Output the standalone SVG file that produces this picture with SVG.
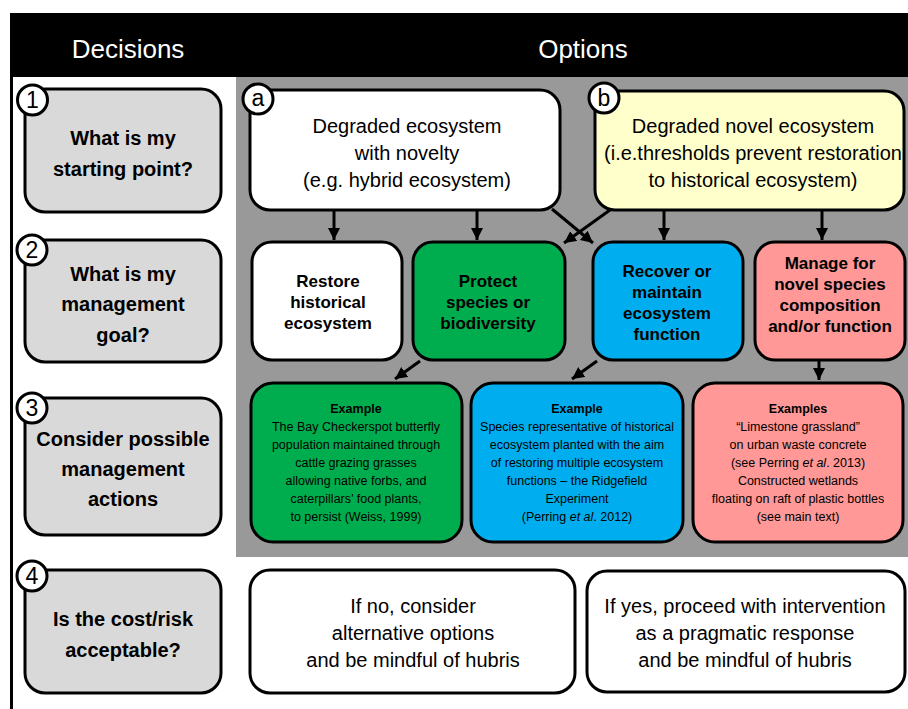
<svg xmlns="http://www.w3.org/2000/svg" width="908" height="709" viewBox="0 0 908 709">
<defs>
<marker id="ah" markerUnits="userSpaceOnUse" markerWidth="13" markerHeight="13" refX="12" refY="6" orient="auto">
<path d="M0,0 L12,6 L0,12 z" fill="#000"/>
</marker>
<style>
text{font-family:"Liberation Sans",Arial,sans-serif;fill:#000;text-anchor:middle}
.box{stroke:#000;stroke-width:3}
.q{fill:#d9d9d9}
.qt{font-size:20px;font-weight:bold}
.big{font-size:20px}
.goal{font-size:17px;font-weight:bold}
.ex{font-size:12.5px}
.exb{font-size:12.5px;font-weight:bold}
.hd{font-size:26px;fill:#fff}
.circ{fill:#fff;stroke:#000;stroke-width:3}
.num{font-size:23px}
.conn line{stroke:#000;stroke-width:3;marker-end:url(#ah)}
</style>
</defs>
<rect x="0" y="0" width="908" height="709" fill="#fff"/>
<g id="header">
<rect x="10" y="13" width="898" height="64" fill="#000"/>
<text class="hd" x="128" y="58">Decisions</text>
<text class="hd" x="583" y="58">Options</text>
</g>
<line x1="11.5" y1="77" x2="11.5" y2="709" stroke="#000" stroke-width="3"/>
<rect id="options-bg" x="236" y="77" width="672" height="480" fill="#999"/>

<g id="q1">
<rect class="box q" x="25" y="89" width="196" height="123" rx="20"/>
<text class="qt" x="123" y="145">What is my</text>
<text class="qt" x="123" y="176">starting point?</text>
<circle class="circ" cx="32.5" cy="100" r="15"/>
<text class="num" x="32.5" y="108">1</text>
</g>
<g id="q2">
<rect class="box q" x="25" y="240" width="196" height="122" rx="20"/>
<text class="qt" x="123" y="281">What is my</text>
<text class="qt" x="123" y="311">management</text>
<text class="qt" x="123" y="342">goal?</text>
<circle class="circ" cx="32" cy="250" r="15"/>
<text class="num" x="32" y="258">2</text>
</g>
<g id="q3">
<rect class="box q" x="25" y="398" width="196" height="137" rx="20"/>
<text class="qt" x="123" y="446">Consider possible</text>
<text class="qt" x="123" y="476">management</text>
<text class="qt" x="123" y="506">actions</text>
<circle class="circ" cx="32" cy="408" r="15"/>
<text class="num" x="32" y="416">3</text>
</g>
<g id="q4">
<rect class="box q" x="25" y="570" width="196" height="123" rx="20"/>
<text class="qt" x="123" y="626">Is the cost/risk</text>
<text class="qt" x="123" y="657">acceptable?</text>
<circle class="circ" cx="32" cy="576" r="15"/>
<text class="num" x="32" y="584">4</text>
</g>

<g id="start-a">
<rect class="box" x="250" y="90" width="310" height="120" rx="20" fill="#fff"/>
<text class="big" x="407" y="133">Degraded ecosystem</text>
<text class="big" x="407" y="160">with novelty</text>
<text class="big" x="407" y="187">(e.g. hybrid ecosystem)</text>
<circle class="circ" cx="258" cy="99" r="15"/>
<text class="num" x="258" y="106">a</text>
</g>
<g id="start-b">
<rect class="box" x="595" y="91" width="309" height="119" rx="20" fill="#ffffcc"/>
<text class="big" x="753" y="133">Degraded novel ecosystem</text>
<text class="big" x="753" y="160">(i.e.thresholds prevent restoration</text>
<text class="big" x="753" y="187">to historical ecosystem)</text>
<circle class="circ" cx="604" cy="98" r="15"/>
<text class="num" x="604" y="106">b</text>
</g>

<g id="goal-restore">
<rect class="box" x="252" y="242" width="150" height="118" rx="20" fill="#fff"/>
<text class="goal" x="328" y="287">Restore</text>
<text class="goal" x="328" y="308">historical</text>
<text class="goal" x="328" y="329">ecosystem</text>
</g>
<g id="goal-protect">
<rect class="box" x="413" y="242" width="152" height="118" rx="20" fill="#00ad4e"/>
<text class="goal" x="488" y="287">Protect</text>
<text class="goal" x="488" y="308">species or</text>
<text class="goal" x="488" y="329">biodiversity</text>
</g>
<g id="goal-recover">
<rect class="box" x="593" y="242" width="150" height="118" rx="20" fill="#00aeef"/>
<text class="goal" x="667" y="277">Recover or</text>
<text class="goal" x="667" y="298">maintain</text>
<text class="goal" x="667" y="319">ecosystem</text>
<text class="goal" x="667" y="340">function</text>
</g>
<g id="goal-manage">
<rect class="box" x="755" y="242" width="150" height="118" rx="20" fill="#ff9896"/>
<text class="goal" x="830" y="269">Manage for</text>
<text class="goal" x="830" y="290">novel species</text>
<text class="goal" x="830" y="311">composition</text>
<text class="goal" x="830" y="332">and/or function</text>
</g>

<g id="example-green">
<rect class="box" x="251" y="383" width="211" height="159" rx="22" fill="#00ad4e"/>
<text class="exb" x="356" y="413">Example</text>
<text class="ex" x="356" y="431">The Bay Checkerspot butterfly</text>
<text class="ex" x="356" y="449">population maintained through</text>
<text class="ex" x="356" y="467">cattle grazing grasses</text>
<text class="ex" x="356" y="485">allowing native forbs, and</text>
<text class="ex" x="356" y="503">caterpillars’ food plants,</text>
<text class="ex" x="356" y="521">to persist (Weiss, 1999)</text>
</g>
<g id="example-blue">
<rect class="box" x="471" y="383" width="212" height="159" rx="22" fill="#00aeef"/>
<text class="exb" x="577" y="413">Example</text>
<text class="ex" x="577" y="431">Species representative of historical</text>
<text class="ex" x="577" y="449">ecosystem planted with the aim</text>
<text class="ex" x="577" y="467">of restoring multiple ecosystem</text>
<text class="ex" x="577" y="485">functions – the Ridgefield</text>
<text class="ex" x="577" y="503">Experiment</text>
<text class="ex" x="577" y="521">(Perring <tspan font-style="italic">et al</tspan>. 2012)</text>
</g>
<g id="example-pink">
<rect class="box" x="693" y="383" width="210" height="159" rx="22" fill="#ff9896"/>
<text class="exb" x="798" y="413">Examples</text>
<text class="ex" x="798" y="431">“Limestone grassland”</text>
<text class="ex" x="798" y="449">on urban waste concrete</text>
<text class="ex" x="798" y="467">(see Perring <tspan font-style="italic">et al</tspan>. 2013)</text>
<text class="ex" x="798" y="485">Constructed wetlands</text>
<text class="ex" x="798" y="503">floating on raft of plastic bottles</text>
<text class="ex" x="798" y="521">(see main text)</text>
</g>

<g id="outcome-no">
<rect class="box" x="250" y="570" width="325" height="123" rx="20" fill="#fff"/>
<text class="big" x="413" y="613">If no, consider</text>
<text class="big" x="413" y="640">alternative options</text>
<text class="big" x="413" y="667">and be mindful of hubris</text>
</g>
<g id="outcome-yes">
<rect class="box" x="587" y="571" width="318" height="121" rx="20" fill="#fff"/>
<text class="big" x="745" y="613">If yes, proceed with intervention</text>
<text class="big" x="745" y="640">as a pragmatic response</text>
<text class="big" x="745" y="667">and be mindful of hubris</text>
</g>

<g id="connectors" class="conn">
<line x1="334" y1="211" x2="334" y2="240"/>
<line x1="477" y1="211" x2="477" y2="240"/>
<line x1="552" y1="209" x2="593" y2="243"/>
<line x1="610" y1="210" x2="564" y2="243"/>
<line x1="664" y1="211" x2="664" y2="240"/>
<line x1="822" y1="211" x2="822" y2="240"/>
<line x1="420" y1="361" x2="395" y2="379"/>
<line x1="597" y1="361" x2="572" y2="379"/>
<line x1="819" y1="361" x2="819" y2="380"/>
</g>
</svg>
